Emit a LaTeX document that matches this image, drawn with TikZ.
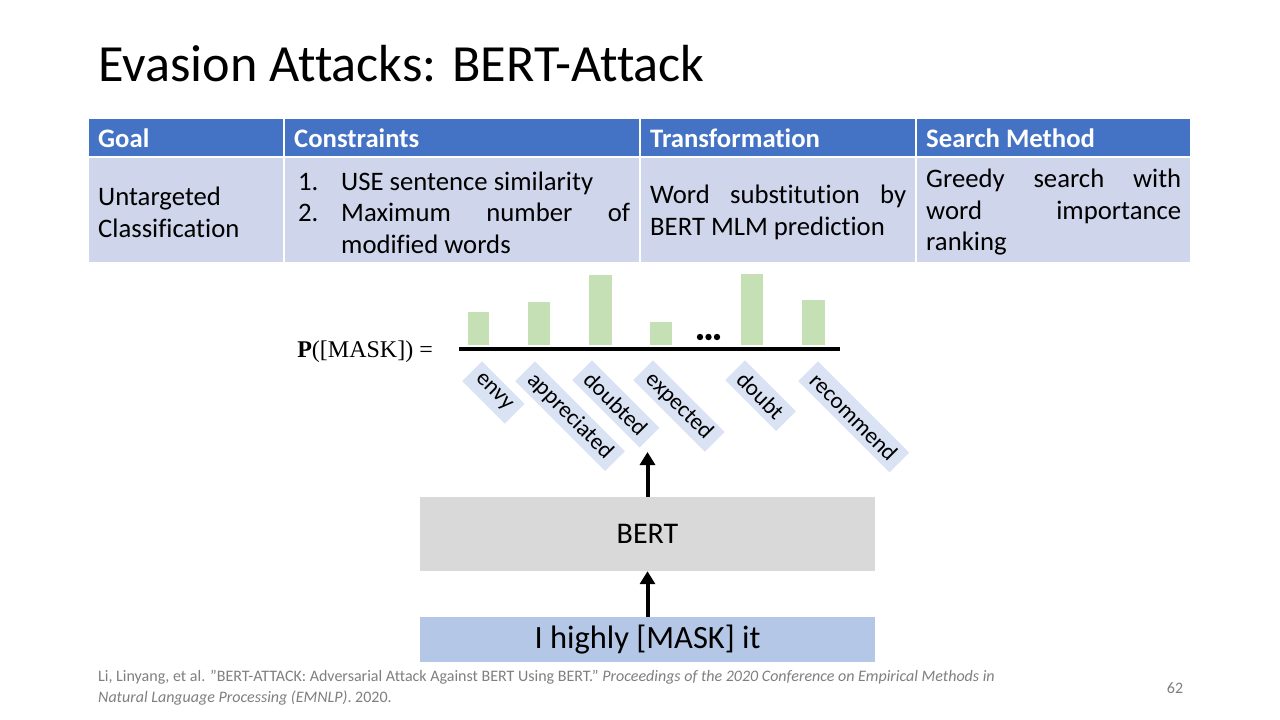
\documentclass[tikz,border=0pt]{standalone}
\usepackage{fontspec}
\setmainfont{Carlito}[Ligatures={TeX,NoCommon}]
\newfontfamily\serifm{Liberation Serif}
\usetikzlibrary{arrows.meta}
\definecolor{hdr}{HTML}{4472C4}
\definecolor{cellb}{HTML}{CFD5EA}
\definecolor{barg}{HTML}{C5E0B4}
\definecolor{lbl}{HTML}{DAE3F3}
\definecolor{bertg}{HTML}{D9D9D9}
\definecolor{inb}{HTML}{B4C7E7}
\definecolor{foot}{HTML}{7F7F7F}
\tikzset{
  hcell/.style={fill=hdr, draw=white, line width=2pt},
  bcell/.style={fill=cellb, draw=white, line width=2pt},
  htext/.style={anchor=west, inner sep=0pt, text=white, font=\fontsize{26.7}{31.5}\selectfont\bfseries},
  btext/.style={anchor=west, inner sep=0pt, align=left, font=\fontsize{26.7}{31.5}\selectfont},
  bar/.style={fill=barg},
  lblbox/.style={fill=lbl, rotate=-45, anchor=north west, inner xsep=8pt, inner ysep=0pt, minimum height=28pt, font=\fontsize{23}{25}\selectfont},
  arr/.style={line width=4pt, -{Triangle[width=15pt,length=13pt]}},
}
\begin{document}
\begin{tikzpicture}[x=1pt,y=-1pt]
\useasboundingbox (0,0) rectangle (1280,720);
\fill[white] (0,0) rectangle (1280,720);

\node[anchor=base west, inner sep=0pt, font=\fontsize{52.2}{60}\selectfont] (title) at (98,81) {Evasion Attacks: BERT-Attack};

% table
\path[hcell] (88,118) rectangle (284,157);
\path[hcell] (284,118) rectangle (640,157);
\path[hcell] (640,118) rectangle (916,157);
\path[hcell] (916,118) rectangle (1191,157);
\path[bcell] (88,157) rectangle (284,263);
\path[bcell] (284,157) rectangle (640,263);
\path[bcell] (640,157) rectangle (916,263);
\path[bcell] (916,157) rectangle (1191,263);

\node[htext] (h1) at (98,138) {Goal};
\node[htext] (h2) at (294,138) {Constraints};
\node[htext] (h3) at (650,138) {Transformation};
\node[htext] (h4) at (926,138) {Search Method};

\node[btext] (c1) at (98,212.5) {Untargeted\\Classification};
\node[btext] (c2) at (298,212.5) {\makebox[43pt][l]{1.}USE sentence similarity\\\makebox[43pt][l]{2.}\makebox[289pt][s]{Maximum number of}\\\hspace*{43pt}modified words};
\node[btext] (c3) at (650,212.5) {\makebox[256pt][s]{Word substitution by}\\BERT MLM prediction};
\node[btext] (c4) at (926,212.5) {\makebox[255pt][s]{Greedy search with}\\\makebox[255pt][s]{word importance}\\ranking};

% distribution
\node[anchor=east, inner sep=0pt, font=\fontsize{24}{28}\selectfont\serifm] (pm) at (433,352) {\textbf{P}([MASK]) =};
\fill[bar] (468,345) rectangle (489,312);
\fill[bar] (528,345) rectangle (550,302);
\fill[bar] (589,345) rectangle (612,275);
\fill[bar] (650,345) rectangle (672,322);
\fill[bar] (741,345) rectangle (763,274);
\fill[bar] (802,345) rectangle (825,300);
\fill (700,337) circle (3.2);
\fill (708.5,337) circle (3.2);
\fill (717,337) circle (3.2);
\draw[line width=4pt] (459,349) -- (840,349);

\node[lblbox] (w1) at (482,361) {envy};
\node[lblbox] (w2) at (535,361) {appreciated};
\node[lblbox] (w3) at (592,360) {doubted};
\node[lblbox] (w4) at (653,360) {expected};
\node[lblbox] (w5) at (745,360) {doubt};
\node[lblbox] (w6) at (818,361) {recommend};

% model
\node[fill=bertg, minimum width=455pt, minimum height=74pt, inner sep=0pt, font=\fontsize{30}{34}\selectfont] (bert) at (647.5,534) {BERT};
\node[fill=inb, minimum width=455pt, minimum height=45pt, inner sep=0pt, font=\fontsize{32.5}{36}\selectfont] (inp) at (647.5,639.5) {I highly [MASK] it};
\coordinate (tip) at (647.5,452);
\draw[arr] (bert.north) -- (tip);
\draw[arr] (inp.north) -- (bert.south);

% footer
\node[anchor=west, inner sep=0pt, align=left, text=foot, font=\fontsize{16}{21}\selectfont] (cite) at (98,688) {Li, Linyang, et al. "BERT-ATTACK: Adversarial Attack Against BERT Using BERT." \textit{Proceedings of the 2020 Conference on Empirical Methods in}\\\textit{Natural Language Processing (EMNLP)}. 2020.};
\node[inner sep=0pt, text=foot, font=\fontsize{16}{18}\selectfont] (pg) at (1175,688) {62};
\end{tikzpicture}
\end{document}
